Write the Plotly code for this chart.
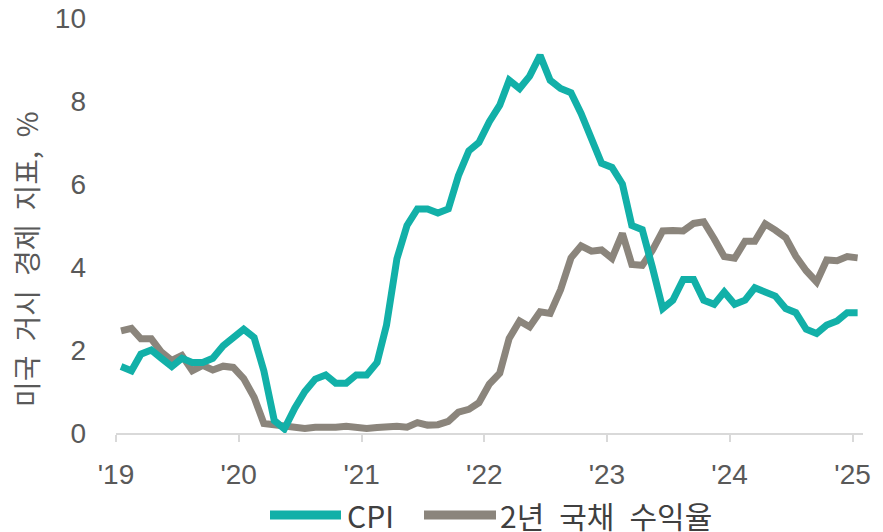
import plotly.graph_objects as go

# Monthly data, Jan 2019 - Jan 2025
months = [f"{y}-{m:02d}-16" for y in range(2019, 2026) for m in range(1, 13)][:73]

cpi = [1.6, 1.5, 1.9, 2.0, 1.8, 1.6, 1.8, 1.7, 1.7, 1.8, 2.1, 2.3,
       2.5, 2.3, 1.5, 0.3, 0.1, 0.6, 1.0, 1.3, 1.4, 1.2, 1.2, 1.4,
       1.4, 1.7, 2.6, 4.2, 5.0, 5.4, 5.4, 5.3, 5.4, 6.2, 6.8, 7.0,
       7.5, 7.9, 8.5, 8.3, 8.6, 9.1, 8.5, 8.3, 8.2, 7.7, 7.1, 6.5,
       6.4, 6.0, 5.0, 4.9, 4.0, 3.0, 3.2, 3.7, 3.7, 3.2, 3.1, 3.4,
       3.1, 3.2, 3.5, 3.4, 3.3, 3.0, 2.9, 2.5, 2.4, 2.6, 2.7, 2.9,
       2.9]

ust2y = [2.46, 2.52, 2.27, 2.27, 1.95, 1.75, 1.87, 1.50, 1.63, 1.52, 1.61, 1.58,
         1.31, 0.86, 0.23, 0.20, 0.16, 0.16, 0.11, 0.14, 0.13, 0.14, 0.16, 0.13,
         0.11, 0.13, 0.16, 0.16, 0.14, 0.25, 0.19, 0.20, 0.28, 0.50, 0.57, 0.73,
         1.18, 1.44, 2.28, 2.70, 2.56, 2.92, 2.88, 3.45, 4.22, 4.51, 4.38, 4.41,
         4.21, 4.81, 4.06, 4.04, 4.40, 4.87, 4.88, 4.87, 5.05, 5.09, 4.68, 4.25,
         4.21, 4.62, 4.62, 5.04, 4.89, 4.71, 4.26, 3.91, 3.64, 4.17, 4.15, 4.25,
         4.22]

tick_dates = [f"{y}-01-01" for y in range(2019, 2026)]
tick_labels = ["'19", "'20", "'21", "'22", "'23", "'24", "'25"]
y_ticks = [0, 2, 4, 6, 8, 10]

series_names = ["CPI", "2년 국채 수익율"]
y_title = "미국 거시 경제 지표, %"

SP = "\u2002"  # wider word gap, like the reference font

TEAL = "#12B0A8"
GRAY = "#8B857C"
TXT = "#595959"

fig = go.Figure()
fig.add_trace(go.Scatter(x=months, y=ust2y, mode="lines", name=series_names[1],
                         line=dict(color=GRAY, width=7), showlegend=False))
fig.add_trace(go.Scatter(x=months, y=cpi, mode="lines", name=series_names[0],
                         line=dict(color=TEAL, width=7), showlegend=False))

LEG_Y = (433 - 515) / 415

fig.update_layout(
    width=883, height=532,
    margin=dict(l=116, r=20, t=18, b=99, autoexpand=False),
    plot_bgcolor="white", paper_bgcolor="white",
    font=dict(family="Liberation Sans, Arial", color=TXT, size=28),
    xaxis=dict(type="date", range=["2019-01-01", "2025-02-01"],
               tickvals=tick_dates, ticktext=tick_labels,
               showline=True, linecolor="#D9D9D9", linewidth=2,
               ticks="outside", ticklen=7, tickwidth=2, tickcolor="#D9D9D9",
               showgrid=False, zeroline=False, automargin=False,
               tickfont=dict(size=28, color=TXT), ticklabelstandoff=8),
    yaxis=dict(range=[0, 10], tickvals=y_ticks, showgrid=False, zeroline=False,
               showline=False, ticks="", tickfont=dict(size=28, color=TXT),
               automargin=False, ticklabelstandoff=29),
    annotations=[
        dict(text=y_title.replace(" ", SP), textangle=-90, xref="paper", yref="paper",
             x=(26 - 116) / 747, y=(433 - 259) / 415, showarrow=False,
             xanchor="center", yanchor="middle",
             font=dict(family="Noto Sans CJK KR", size=28, color=TXT)),
        dict(text=series_names[0], xref="paper", yref="paper",
             x=(345 - 116) / 747, y=LEG_Y, showarrow=False,
             xanchor="left", yanchor="middle",
             font=dict(family="Noto Sans CJK KR", size=30, color="#404040")),
        dict(text=series_names[1].replace(" ", SP), xref="paper", yref="paper",
             x=(498 - 116) / 747, y=LEG_Y, showarrow=False,
             xanchor="left", yanchor="middle",
             font=dict(family="Noto Sans CJK KR", size=30, color="#404040")),
    ],
    shapes=[
        dict(type="line", xref="paper", yref="paper",
             x0=(270 - 116) / 747, x1=(341 - 116) / 747,
             y0=LEG_Y, y1=LEG_Y,
             line=dict(color=TEAL, width=9)),
        dict(type="line", xref="paper", yref="paper",
             x0=(424 - 116) / 747, x1=(496 - 116) / 747,
             y0=LEG_Y, y1=LEG_Y,
             line=dict(color=GRAY, width=9)),
    ],
)

fig.write_html("out.html", post_script="document.body.style.margin='0';",
               config={"displayModeBar": False})
